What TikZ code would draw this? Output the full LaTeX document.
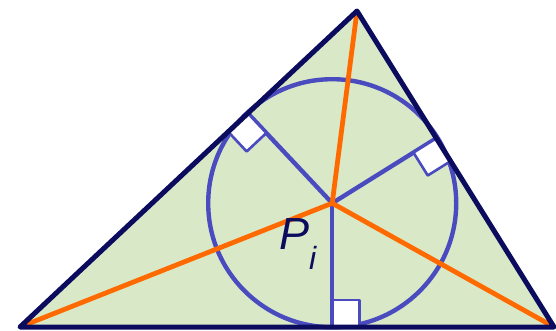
\documentclass[tikz,border=0pt]{standalone}
\usepackage{fontspec}
\setmainfont{Liberation Sans}
\usetikzlibrary{calc}
\definecolor{marine}{RGB}{12,12,94}
\definecolor{vertpale}{RGB}{217,233,200}
\definecolor{orangevif}{RGB}{255,106,0}
\definecolor{bleucercle}{RGB}{75,75,192}

\begin{document}
\begin{tikzpicture}[x=1pt,y=-1pt,line join=round,
    bissectrice/.style={orangevif,line width=4.8pt},
    rayon/.style={bleucercle,line width=4.4pt},
    carre/.style={bleucercle,line width=2.6pt,fill=white}]
  \useasboundingbox (0,0) rectangle (556,331);
  %% sommets et centre
  \coordinate (A) at (20,327);
  \coordinate (B) at (554,327);
  \coordinate (C) at (357,11);
  \coordinate (I) at (332.2,203.2);
  %% points de contact
  \coordinate (tab) at ($(A)!(I)!(B)$);
  \coordinate (tac) at ($(A)!(I)!(C)$);
  \coordinate (tbc) at ($(B)!(I)!(C)$);

  %% fond du triangle
  \fill[vertpale] (A) -- (B) -- (C) -- cycle;

  %% cercle inscrit et rayons
  \draw[rayon] (I) circle[radius=124];
  \foreach \t in {tab,tac,tbc}
    \draw[rayon] (I) -- (\t);

  %% bissectrices
  \foreach \v in {A,B,C}
    \draw[bissectrice] (\v) -- (I);

  %% angles droits
  \foreach \t/\v in {tab/B,tac/A,tbc/B}{
    \coordinate (p) at ($(\t)!27pt!(\v)$);
    \coordinate (q) at ($(\t)!27pt!(I)$);
    \draw[carre] (\t) -- (p) -- ($(p)+(q)-(\t)$) -- (q) -- cycle;
  }

  %% contour
  \draw[marine,line width=5pt] (A) -- (B) -- (C) -- cycle;

  \node[marine,anchor=base west,inner sep=0pt] (lab) at (279,249)
    {\fontsize{45}{45}\selectfont\itshape P\raisebox{-20pt}{\fontsize{32}{32}\selectfont i}};
\end{tikzpicture}
\end{document}
